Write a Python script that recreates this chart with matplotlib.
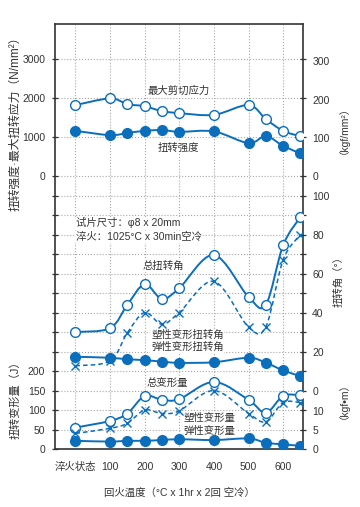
import numpy as np
import matplotlib
matplotlib.use("Agg")
import matplotlib.pyplot as plt
from matplotlib.path import Path
from matplotlib.patches import PathPatch

plt.rcParams['font.family'] = ['Liberation Sans', 'Noto Sans CJK SC', 'DejaVu Sans']

BLUE = '#0a6ebd'
W, H = 360, 507

# tempering temperature (0 = as quenched)
temps = [0, 100, 150, 200, 250, 300, 400, 500, 550, 600, 650]
x_ticks = [0, 100, 200, 300, 400, 500, 600]
x_labels = ['淬火状态', '100', '200', '300', '400', '500', '600']

# N/mm2
max_shear = [1820, 1990, 1845, 1790, 1665, 1615, 1570, 1820, 1460, 1160, 1020]
torsion_strength = [1160, 1050, 1105, 1160, 1180, 1135, 1145, 845, 1025, 775, 580]
# degrees
total_angle = [30, 32, 44, 54.5, 47, 52.5, 69.5, 48, 44, 74.5, 89]
plastic_angle = [12.7, 15.2, 29.6, 40, 34, 40, 56, 32.5, 32.7, 67, 80]
elastic_angle = [17.3, 16.8, 16.0, 15.6, 14.8, 14.2, 14.5, 16.8, 14.3, 10.3, 7.4]
# J
total_energy = [55, 72, 91, 136, 126, 128, 172, 126, 93, 136, 138]
plastic_energy = [40, 53, 66, 100, 91, 98, 150, 91, 70, 119, 119]
elastic_energy = [21, 19, 21, 21, 23, 25, 23, 27, 16, 12, 8]

strength_ticks = [0, 1000, 2000, 3000]
kgf_mm2_ticks = [0, 100, 200, 300]
angle_ticks = [0, 20, 40, 60, 80, 100]
energy_ticks = [0, 50, 100, 150, 200]
kgfm_ticks = [0, 5, 10]

G_TOP = 21.8          # axes height in grid rows
KGF = 9.80665


def smooth_line(ax, xs, ys, **kw):
    # catmull-rom through the data points, drawn as bezier path
    pts = np.column_stack([xs, ys]).astype(float)
    n = len(pts)
    verts = [pts[0]]
    codes = [Path.MOVETO]
    for i in range(n - 1):
        p0 = pts[i - 1] if i > 0 else pts[i]
        p3 = pts[i + 2] if i + 2 < n else pts[i + 1]
        c1 = pts[i] + (pts[i + 1] - p0) / 6.0
        c2 = pts[i + 1] - (p3 - pts[i]) / 6.0
        verts += [c1, c2, pts[i + 1]]
        codes += [Path.CURVE4] * 3
    ax.add_patch(PathPatch(Path(verts, codes), fill=False, edgecolor=BLUE, **kw))


def overlay(lo, hi, ticks, side):
    a = base.twinx()
    a.set_ylim(lo, hi)
    a.set_yticks(ticks)
    if side == 'left':
        a.yaxis.set_ticks_position('left')
    a.tick_params(axis='y', length=0, pad=7, labelsize=7.5, colors='#333333')
    for s in a.spines.values():
        s.set_visible(False)
    return a


def series(ax, ys, kind):
    if kind == 'open':
        smooth_line(ax, temps, ys, linewidth=1.4)
        ax.plot(temps, ys, 'o', ms=7, mfc='white', mec=BLUE, mew=1.0)
    elif kind == 'filled':
        smooth_line(ax, temps, ys, linewidth=1.4)
        ax.plot(temps, ys, 'o', ms=7, color=BLUE)
    else:
        smooth_line(ax, temps, ys, linewidth=1.1, linestyle=(0, (3, 2)))
        ax.plot(temps, ys, 'x', ms=6, mec=BLUE, mew=1.0)


fig = plt.figure(figsize=(W / 100, H / 100), dpi=100)
base = fig.add_axes([55 / W, 58 / H, 247.5 / W, 425 / H])
base.set_xlim(-59, 656)
base.set_ylim(0, G_TOP)

ax_s = overlay(-14 * 500, (G_TOP - 14) * 500, strength_ticks, 'left')
ax_s2 = overlay(-14 * 500 / KGF, (G_TOP - 14) * 500 / KGF, kgf_mm2_ticks, 'right')
ax_a = overlay(-30, (G_TOP - 3) * 10, angle_ticks, 'right')
ax_e = overlay(0, G_TOP * 50, energy_ticks, 'left')
ax_e2 = overlay(0, G_TOP * 50 / KGF, kgfm_ticks, 'right')

series(ax_s, max_shear, 'open')
series(ax_s, torsion_strength, 'filled')
series(ax_a, total_angle, 'open')
series(ax_a, plastic_angle, 'cross')
series(ax_a, elastic_angle, 'filled')
series(ax_e, total_energy, 'open')
series(ax_e, plastic_energy, 'cross')
series(ax_e, elastic_energy, 'filled')
for a in (ax_s, ax_a, ax_e):
    a.set_xlim(-59, 656)

# frame, grid and tick marks (after twinx, which resets base ticks)
grid_rows = list(range(0, 15)) + [16, 18, 20]
base.set_yticks(grid_rows)
base.set_yticklabels([])
base.yaxis.set_ticks_position('both')
base.tick_params(axis='y', direction='inout', length=5, width=0.9, color='#333333')
base.set_xticks(x_ticks)
base.set_xticklabels(x_labels)
base.tick_params(axis='x', direction='in', length=0, pad=9, labelsize=7.5, colors='#333333')
base.grid(True, linestyle=':', color='#a8a8a8', linewidth=0.8)
for s in base.spines.values():
    s.set_linewidth(1.2)
    s.set_color('#333333')


def note(x, y, s):
    base.text(x / W, 1 - y / H, s, transform=fig.transFigure, ha='left', va='center',
              fontsize=7.5, color='#333333',
              bbox=dict(facecolor='white', edgecolor='none', pad=0.6))


note(148, 91, '最大剪切应力')
note(158, 148, '扭转强度')
note(76, 223, '试片尺寸：φ8 x 20mm')
note(76, 237, '淬火：1025°C x 30min空冷')
note(143, 266, '总扭转角')
note(151, 335, '塑性变形扭转角')
note(151, 347, '弹性变形扭转角')
note(147, 383, '总变形量')
note(183, 418, '塑性变形量')
note(183, 431, '弹性变形量')

fig.text(15 / W, 1 - 121 / H, '扭转强度·最大扭转应力（N/mm²）', rotation=90,
         ha='center', va='center', fontsize=8.5, color='#333333')
fig.text(15 / W, 1 - 397 / H, '扭转变形量（J）', rotation=90,
         ha='center', va='center', fontsize=8, color='#333333')
fig.text(338 / W, 1 - 125 / H, '（kgf/mm²）', rotation=90,
         ha='center', va='center', fontsize=7.5, color='#333333')
fig.text(338 / W, 1 - 279 / H, '扭转角（°）', rotation=90,
         ha='center', va='center', fontsize=7.5, color='#333333')
fig.text(338 / W, 1 - 396 / H, '（kgf•m）', rotation=90,
         ha='center', va='center', fontsize=7.5, color='#333333')
fig.text(179 / W, 1 - 493 / H, '回火温度（°C x 1hr x 2回 空冷）',
         ha='center', va='center', fontsize=7.5, color='#333333')

fig.savefig('out.png', dpi=100)
